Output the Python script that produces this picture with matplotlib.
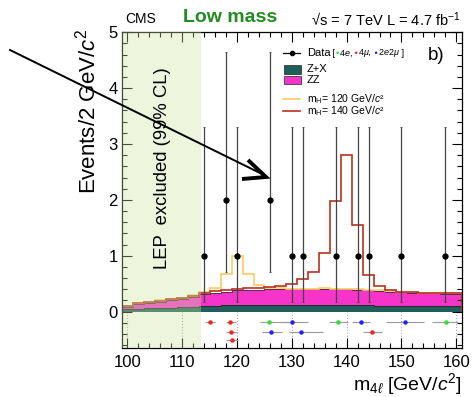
import numpy as np
import matplotlib
matplotlib.use('Agg')
import matplotlib.pyplot as plt
from matplotlib.patches import Rectangle
from matplotlib.lines import Line2D
from matplotlib.ticker import MultipleLocator

plt.rcParams['font.family'] = ['Liberation Sans', 'DejaVu Sans']
plt.rcParams['mathtext.fontset'] = 'custom'
plt.rcParams['mathtext.rm'] = 'Liberation Sans'
plt.rcParams['mathtext.it'] = 'Liberation Sans:italic'
plt.rcParams['mathtext.bf'] = 'Liberation Sans:bold'

# 2 GeV bins, 99..161
edges = np.arange(99, 162, 2)

# backgrounds per bin (centres 100..160)
zx = [0.04, 0.05, 0.06, 0.065, 0.07, 0.08, 0.09, 0.10, 0.11, 0.115, 0.12, 0.12, 0.125, 0.125, 0.125, 0.125,
      0.125, 0.125, 0.12, 0.12, 0.12, 0.115, 0.115, 0.11, 0.11, 0.105, 0.105, 0.10, 0.10, 0.10, 0.10]
zz = [0.05, 0.09, 0.10, 0.115, 0.14, 0.15, 0.18, 0.21, 0.23, 0.245, 0.26, 0.27, 0.265, 0.275, 0.275, 0.275,
      0.275, 0.275, 0.29, 0.28, 0.28, 0.275, 0.265, 0.26, 0.25, 0.245, 0.235, 0.23, 0.23, 0.22, 0.22]
# signal expectations
sig120 = [0.02, 0.02, 0.02, 0.02, 0.02, 0.02, 0.02, 0.05, 0.08, 0.32, 0.62, 0.29, 0.08, 0.03, 0.02, 0.01,
          0.01, 0.01, 0.01, 0.01, 0.01, 0.01, 0.01, 0.01, 0.01, 0.01, 0.01, 0.01, 0.01, 0.01, 0.01]
sig140 = [0.01, 0.01, 0.01, 0.01, 0.01, 0.01, 0.01, 0.02, 0.03, 0.03, 0.03, 0.03, 0.04, 0.04, 0.06, 0.09,
          0.18, 0.31, 0.64, 1.58, 2.41, 1.16, 0.28, 0.09, 0.02, 0.01, 0.01, 0.01, 0.01, 0.01, 0.01]

# observed data
data_x = [114, 118, 120, 126, 130, 132, 138, 142, 144, 150, 158]
data_n = [1, 2, 1, 2, 1, 1, 1, 1, 1, 1, 1]
data_lo = [0.827, 1.292, 0.827, 1.292, 0.827, 0.827, 0.827, 0.827, 0.827, 0.827, 0.827]
data_hi = [2.30, 2.64, 2.30, 2.64, 2.30, 2.30, 2.30, 2.30, 2.30, 2.30, 2.30]

# single events: mass, low, high, channel, row
ev_mass = [115.0, 118.8, 125.75, 130.05, 138.5, 142.6, 150.6, 158.05, 118.96, 126.24, 131.6, 144.7, 119.1]
ev_low = [114.2, 118.05, 124.1, 128.2, 136.8, 140.9, 147.1, 155.6, 118.05, 124.5, 129.4, 143.0, 117.9]
ev_high = [115.9, 119.75, 129.1, 132.9, 140.3, 144.2, 154.2, 160.3, 119.9, 128.2, 135.6, 146.5, 120.1]
ev_chan = ['4mu', '4mu', '4e', '2e2mu', '4e', '2e2mu', '2e2mu', '4e', '4mu', '2e2mu', '2e2mu', '4mu', '4mu']
ev_row = [0, 0, 0, 0, 0, 0, 0, 0, 1, 1, 1, 1, 2]

row_y = [-0.19, -0.355, -0.50]
chan_col = {'4e': '#33dd33', '4mu': '#ff2020', '2e2mu': '#2020ff'}

c_zx = '#1f5f5a'
c_zz = '#f634c9'
c_120 = '#fdc86a'
c_140 = '#b8321f'

zx = np.array(zx)
zz = np.array(zz)
bkg = zx + zz

fig = plt.figure(figsize=(4.72, 3.97), dpi=100)
ax = fig.add_axes([0.2585, 0.1234, 0.7197, 0.7956])

ax.stairs(zx, edges, baseline=0, fill=True, color=c_zx, zorder=1)
ax.stairs(bkg, edges, baseline=zx, fill=True, color=c_zz, zorder=1)
ax.stairs(zx, edges, color='#222222', lw=0.6, zorder=1.2)
ax.stairs(bkg, edges, color='#333333', lw=0.6, zorder=1.2)
ax.stairs(bkg + np.array(sig120), edges, color=c_120, lw=1.2, zorder=1.5)
ax.stairs(bkg + np.array(sig140), edges, color=c_140, lw=1.2, zorder=1.6)

# dotted lines in event strip
ax.vlines(np.arange(100, 161, 10), -0.65, 0, colors='#aaaaaa', linestyles=':', lw=0.8, zorder=0.5)

# LEP band
ax.axvspan(99, 113.5, color='#c6e89e', alpha=0.35, lw=0, zorder=3)
ax.text(106.4, 2.56, 'LEP  excluded (99% CL)', rotation=90, ha='center', va='center', fontsize=13.3, zorder=4)

ax.errorbar(data_x, data_n, yerr=[data_lo, data_hi], fmt='o', color='k', ecolor='#444444',
            ms=3.5, elinewidth=0.9, capsize=1, capthick=0.6, zorder=5)

for m, lo, hi, ch, r in zip(ev_mass, ev_low, ev_high, ev_chan, ev_row):
    ax.errorbar([m], [row_y[r]], xerr=[[m - lo], [hi - m]], fmt='o', color=chan_col[ch],
                ecolor='#9a9a9a', ms=2.2, elinewidth=0.8, capsize=0, zorder=5)

ax.set_xlim(99, 161)
ax.set_ylim(-0.65, 5)
ax.xaxis.set_major_locator(MultipleLocator(10))
ax.xaxis.set_minor_locator(MultipleLocator(2))
ax.yaxis.set_major_locator(MultipleLocator(1))
ax.yaxis.set_minor_locator(MultipleLocator(0.2))
ax.set_yticks([0, 1, 2, 3, 4, 5])
ax.tick_params(which='both', direction='in', top=True, right=True, labelsize=12, width=0.8)
ax.tick_params(which='major', length=7)
ax.tick_params(which='minor', length=3.5)
ax.tick_params(axis='y', pad=3)
ax.tick_params(axis='x', pad=5)
for s in ax.spines.values():
    s.set_linewidth(0.9)

# legend (drawn by hand)
tx = 0.5437
t = ax.text(tx, 0.9326, 'Data', transform=ax.transAxes, fontsize=8, va='center', zorder=6)
ax.add_line(Line2D([0.475, 0.5245], [0.9326, 0.9326], transform=ax.transAxes, color='k', lw=0.9))
ax.add_line(Line2D([0.4996], [0.9326], transform=ax.transAxes, color='k', marker='o', ms=3))
prev = t
for piece, col in [(' [', 'k'), ('\u2022', chan_col['4e']), ('4$e$,', 'k'), (' \u2022', chan_col['4mu']),
                   ('4$\\mu$,', 'k'), (' \u2022', chan_col['2e2mu']), ('2$e$2$\\mu$', 'k'), (' ]', 'k')]:
    prev = ax.annotate(piece, xy=(1, 0.5), xycoords=prev, ha='left', va='center', color=col, fontsize=6.5)
ax.add_patch(Rectangle((0.4769, 0.869), 0.049, 0.026, transform=ax.transAxes, facecolor=c_zx,
                       edgecolor='#222222', lw=0.5))
ax.text(tx, 0.882, 'Z+X', transform=ax.transAxes, fontsize=8, va='center')
ax.add_patch(Rectangle((0.4769, 0.8345), 0.049, 0.026, transform=ax.transAxes, facecolor=c_zz,
                       edgecolor='#222222', lw=0.5))
ax.text(tx, 0.8475, 'ZZ', transform=ax.transAxes, fontsize=8, va='center')
ax.add_line(Line2D([0.475, 0.5245], [0.789, 0.789], transform=ax.transAxes, color=c_120, lw=1.2))
ax.text(tx, 0.789, 'm$_\\mathrm{H}$= 120 GeV/$c$\u00b2', transform=ax.transAxes, fontsize=7.5, va='center')
ax.add_line(Line2D([0.475, 0.5245], [0.749, 0.749], transform=ax.transAxes, color=c_140, lw=1.2))
ax.text(tx, 0.749, 'm$_\\mathrm{H}$= 140 GeV/$c$\u00b2', transform=ax.transAxes, fontsize=7.5, va='center')

ax.text(0.926, 0.927, 'b)', transform=ax.transAxes, fontsize=13.5, ha='center', va='center')

# header texts
fig.text(125 / 472, 1 - 23 / 397, 'CMS', fontsize=10, ha='left', va='baseline')
fig.text(183 / 472, 1 - 21.7 / 397, 'Low mass', fontsize=14, fontweight='bold', color='#228b22',
         ha='left', va='baseline')
fig.text(461 / 472, 1 - 26.5 / 397, '\u221as = 7 TeV L = 4.7 fb$^{-1}$', fontsize=10.5, ha='right',
         va='baseline')

fig.text(88 / 472, 1 - 111.5 / 397, 'Events/2 GeV/$c^{2}$', rotation=90, fontsize=16, ha='center',
         va='center')
fig.text(461.7 / 472, 1 - 390 / 397, 'm$_{4\\ell}$ [GeV/$c^{2}$]', fontsize=14, ha='right', va='baseline')

# big arrow over the figure
p0 = (10 / 472, 1 - 50 / 397)
tip = (266 / 472, 1 - 177 / 397)
w1 = (248 / 472, 1 - 160 / 397)
w2 = (242 / 472, 1 - 179 / 397)
fig.add_artist(Line2D([p0[0], tip[0] - 0.004], [p0[1], tip[1] + 0.005], color='k', lw=1.4))
fig.add_artist(Line2D([w1[0], tip[0], w2[0]], [w1[1], tip[1], w2[1]], color='k', lw=2.8,
                      solid_joinstyle='miter', solid_capstyle='butt'))

fig.savefig('out.png', dpi=100)
